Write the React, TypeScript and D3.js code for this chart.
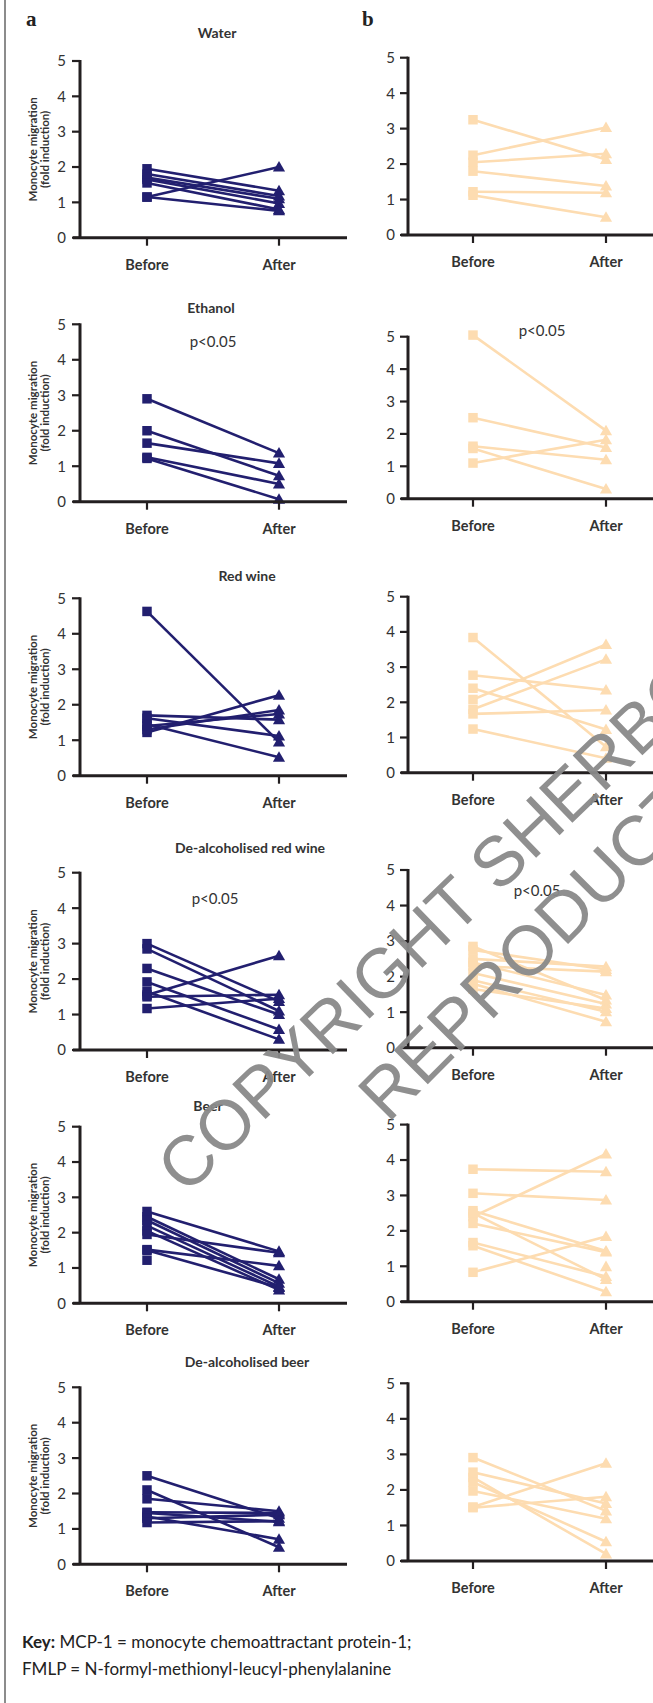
import React from "react";
import * as d3 from "d3";

// ---------- data ----------
const timepoints = ["Before", "After"];
const yTicks = [0, 1, 2, 3, 4, 5];
const treatments = ["Water", "Ethanol", "Red wine", "De-alcoholised red wine", "Beer", "De-alcoholised beer"];
const significance = [null, "p<0.05", null, "p<0.05", null, null];

const waterA_before = [1.95, 1.8, 1.7, 1.65, 1.55, 1.15, 1.15];
const waterA_after = [1.33, 1.18, 1.1, 0.97, 0.8, 2.0, 0.76];
const waterB_before = [3.25, 2.25, 2.05, 1.8, 1.22, 1.12];
const waterB_after = [2.13, 3.03, 2.29, 1.38, 1.19, 0.5];

const ethA_before = [2.9, 2.0, 1.65, 1.25, 1.22];
const ethA_after = [1.37, 0.73, 1.08, 0.5, 0.07];
const ethB_before = [5.05, 2.5, 1.62, 1.55, 1.1];
const ethB_after = [2.1, 1.58, 1.2, 0.3, 1.82];

const rwA_before = [4.63, 1.22, 1.3, 1.4, 1.7, 1.62, 1.45];
const rwA_after = [0.95, 2.27, 1.85, 1.74, 1.58, 1.12, 0.52];
const rwB_before = [3.84, 2.77, 2.4, 2.08, 1.8, 1.67, 1.24];
const rwB_after = [0.74, 2.35, 1.23, 3.64, 3.22, 1.78, 0.41];

const darwA_before = [3.0, 2.85, 2.3, 1.92, 1.65, 1.55, 1.5, 1.17];
const darwA_after = [1.37, 1.1, 1.0, 0.58, 0.3, 2.66, 1.56, 1.45];
const darwB_before = [2.85, 2.75, 2.5, 2.4, 2.3, 2.1, 1.9, 1.8, 1.65];
const darwB_after = [1.34, 2.2, 2.28, 1.48, 2.14, 1.23, 1.01, 0.73, 1.1];

const beerA_before = [2.6, 2.45, 2.35, 2.2, 2.05, 1.95, 1.52, 1.5, 1.22];
const beerA_after = [1.47, 0.68, 0.57, 0.47, 0.38, 1.43, 1.06, 0.45, null];
const beerB_before = [3.74, 3.06, 2.4, 2.57, 2.5, 2.21, 1.67, 1.58, 0.83, null];
const beerB_after = [3.67, 2.87, 4.17, 1.43, 0.63, 1.4, 0.71, 0.28, 1.84, 0.99];

const dabA_before = [2.5, 2.1, 1.85, 1.47, 1.45, 1.35, 1.3, 1.18];
const dabA_after = [1.3, 0.48, 1.5, 1.45, 1.2, 0.71, 1.4, 1.22];
const dabB_before = [2.91, 2.5, 2.35, 2.22, 1.97, 1.52, 1.5];
const dabB_after = [1.41, 1.62, 0.2, 0.54, 1.19, 2.75, 1.81];

const seriesA = [
  [waterA_before, waterA_after],
  [ethA_before, ethA_after],
  [rwA_before, rwA_after],
  [darwA_before, darwA_after],
  [beerA_before, beerA_after],
  [dabA_before, dabA_after],
];
const seriesB = [
  [waterB_before, waterB_after],
  [ethB_before, ethB_after],
  [rwB_before, rwB_after],
  [darwB_before, darwB_after],
  [beerB_before, beerB_after],
  [dabB_before, dabB_after],
];

// ---------- layout ----------
const W = 653;
const H = 1703;
const COL_A = { axisX: 80, xStart: 73, xEnd: 347, before: 147, after: 279, tickLabelX: 66 };
const COL_B = { axisX: 408, xStart: 401, xEnd: 653, before: 473, after: 606, tickLabelX: 395 };
const ROWS = [
  { a: [237.7, 61], b: [235, 57.7], title: [217, 38], pA: null, pB: null },
  { a: [501.7, 324.3], b: [498.7, 336.7], title: [211, 313], pA: [213, 347], pB: [542, 336] },
  { a: [775.7, 598.3], b: [772.7, 596.7], title: [247, 581], pA: null, pB: null },
  { a: [1050, 872.7], b: [1047.7, 870], title: [250, 853], pA: [215, 904], pB: [537, 896] },
  { a: [1303.3, 1126.7], b: [1301.7, 1124.6], title: [208, 1111], pA: null, pB: null },
  { a: [1564.3, 1387.3], b: [1561, 1383.3], title: [247, 1367], pA: null, pB: null },
];

const NAVY = "#221f6f";
const PEACH = "#fddcb1";
const AXIS = "#231f20";
const TXT = "#333333";
const FONT = "Lato, 'Open Sans', sans-serif";

const squarePath = d3.symbol(d3.symbolSquare, 90)() as string;
const trianglePath = d3.symbol(d3.symbolTriangle, 64)() as string;

function Panel({ col, range, before, after, color }) {
  const y = d3.scaleLinear().domain([0, 5]).range(range);
  const x = d3.scalePoint().domain(timepoints).range([col.before, col.after]);
  const y0 = y(0);
  const line = d3.line<[string, number]>().x((d) => x(d[0])!).y((d) => y(d[1]));
  return (
    <g>
      {before.map((b, i) => {
        const a = after[i];
        if (b == null || a == null) return null;
        return (
          <path
            key={"l" + i}
            d={line([[timepoints[0], b], [timepoints[1], a]]) as string}
            stroke={color}
            strokeWidth={2.6}
            fill="none"
          />
        );
      })}
      {before.map((b, i) =>
        b == null ? null : (
          <path key={"s" + i} d={squarePath} transform={`translate(${x(timepoints[0])},${y(b)})`} fill={color} />
        )
      )}
      {after.map((a, i) =>
        a == null ? null : (
          <path key={"t" + i} d={trianglePath} transform={`translate(${x(timepoints[1])},${y(a) + 1})`} fill={color} />
        )
      )}
      {/* axes */}
      <line x1={col.axisX} x2={col.axisX} y1={y(5) - 1} y2={y0} stroke={AXIS} strokeWidth={3} />
      <line x1={col.xStart} x2={col.xEnd} y1={y0} y2={y0} stroke={AXIS} strokeWidth={3} />
      {yTicks.map((t) => (
        <g key={"yt" + t}>
          <line x1={col.axisX - 8} x2={col.axisX} y1={y(t)} y2={y(t)} stroke={AXIS} strokeWidth={2.2} />
          <text
            x={col.tickLabelX}
            y={y(t)}
            dy="0.36em"
            textAnchor="end"
            fontFamily={FONT}
            fontSize={15}
            fill={TXT}
          >
            {t}
          </text>
        </g>
      ))}
      {timepoints.map((tp) => (
        <g key={tp}>
          <line x1={x(tp)} x2={x(tp)} y1={y0} y2={y0 + 8} stroke={AXIS} strokeWidth={2.2} />
          <text
            x={x(tp)}
            y={y0 + 32}
            textAnchor="middle"
            fontFamily={FONT}
            fontWeight="bold"
            fontSize={14.5}
            fill={TXT}
          >
            {tp}
          </text>
        </g>
      ))}
    </g>
  );
}

export default function App() {
  return (
    <svg
      width={W}
      height={H}
      viewBox={`0 0 ${W} ${H}`}
      style={{ position: "absolute", left: 0, top: 0, background: "#fff" }}
    >
      <rect x={0} y={0} width={W} height={H} fill="#fff" />
      <line x1={5} x2={5} y1={0} y2={H} stroke="#8c8c8c" strokeWidth={2} />
      <text x={26} y={26} fontFamily="'Liberation Serif', 'DejaVu Serif', serif" fontWeight="bold" fontSize={21} fill="#222">
        a
      </text>
      <text x={362} y={26} fontFamily="'Liberation Serif', 'DejaVu Serif', serif" fontWeight="bold" fontSize={21} fill="#222">
        b
      </text>
      {ROWS.map((r, i) => {
        const yMid = (r.a[0] + r.a[1]) / 2;
        return (
          <g key={i}>
            <text
              x={r.title[0]}
              y={r.title[1]}
              textAnchor="middle"
              fontFamily={FONT}
              fontWeight="bold"
              fontSize={14}
              fill={TXT}
            >
              {treatments[i]}
            </text>
            <text
              transform={`translate(37,${yMid}) rotate(-90)`}
              textAnchor="middle"
              fontFamily={FONT}
              fontWeight="bold"
              fontSize={11.5}
              fill={TXT}
            >
              Monocyte migration
            </text>
            <text
              transform={`translate(49,${yMid}) rotate(-90)`}
              textAnchor="middle"
              fontFamily={FONT}
              fontWeight="bold"
              fontSize={11.5}
              fill={TXT}
            >
              (fold induction)
            </text>
            <Panel col={COL_A} range={r.a} before={seriesA[i][0]} after={seriesA[i][1]} color={NAVY} />
            <Panel col={COL_B} range={r.b} before={seriesB[i][0]} after={seriesB[i][1]} color={PEACH} />
            {r.pA && significance[i] && (
              <text x={r.pA[0]} y={r.pA[1]} textAnchor="middle" fontFamily={FONT} fontSize={15} fill={TXT}>
                {significance[i]}
              </text>
            )}
            {r.pB && significance[i] && (
              <text x={r.pB[0]} y={r.pB[1]} textAnchor="middle" fontFamily={FONT} fontSize={15} fill={TXT}>
                {significance[i]}
              </text>
            )}
          </g>
        );
      })}
      {/* watermark */}
      <g fill="#8a8a8a" fontFamily="'Liberation Sans', Arial, sans-serif" fontSize={70} opacity={0.95}>
        <text transform="translate(186,1196) rotate(-44)">COPYRIGHT SHERBORNE</text>
        <text transform="translate(388,1124) rotate(-45)">REPRODUCTION</text>
      </g>
      <text x={22} y={1648} fontFamily={FONT} fontSize={17} fill="#222">
        <tspan fontWeight="bold">Key:</tspan>
        <tspan> MCP-1 = monocyte chemoattractant protein-1;</tspan>
      </text>
      <text x={22} y={1675} fontFamily={FONT} fontSize={17} fill="#222">
        FMLP = N-formyl-methionyl-leucyl-phenylalanine
      </text>
    </svg>
  );
}
